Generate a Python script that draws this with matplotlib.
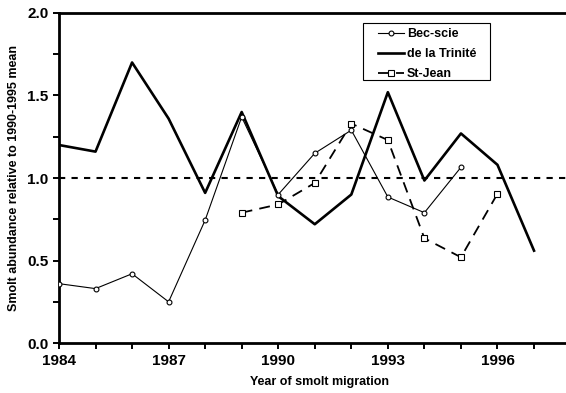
import numpy as np
import matplotlib.pyplot as plt
from matplotlib.patches import Rectangle
from matplotlib.ticker import MultipleLocator

plt.rcParams['font.family'] = ['Liberation Sans', 'DejaVu Sans']
plt.rcParams['font.weight'] = 'bold'

# smolt abundance relative to the 1990-1995 mean, by river
years_bec = [1984, 1985, 1986, 1987, 1988, 1989, 1990, 1991, 1992, 1993, 1994, 1995]
bec_scie = [0.36, 0.33, 0.42, 0.25, 0.745, 1.37, 0.90, 1.15, 1.29, 0.885, 0.79, 1.065]

years_trin = [1984, 1985, 1986, 1987, 1988, 1989, 1990, 1991, 1992, 1993, 1994, 1995, 1996, 1997]
trinite = [1.20, 1.16, 1.70, 1.36, 0.91, 1.40, 0.89, 0.72, 0.90, 1.52, 0.985, 1.27, 1.08, 0.56]

years_sj = [1989, 1990, 1991, 1992, 1993, 1994, 1995, 1996]
st_jean = [0.79, 0.84, 0.97, 1.33, 1.23, 0.635, 0.52, 0.905]

year_labels = [1984, 1987, 1990, 1993, 1996]

fig = plt.figure(figsize=(5.66, 3.93), dpi=100)
ax = fig.add_axes([0.1042, 0.127, 0.92, 0.84])

ax.axhline(1.0, color='black', lw=1.5, ls=(0, (3, 3)), zorder=1)

ax.plot(years_bec, bec_scie, color='black', lw=0.8, marker='o', ms=3.5,
        mfc='white', mec='black', mew=0.8, label='Bec-scie', zorder=3)
ax.plot(years_trin, trinite, color='black', lw=1.9, label='de la Trinité', zorder=2)
ax.plot(years_sj, st_jean, color='black', lw=1.3, ls=(0, (6, 4)), marker='s', ms=4,
        mfc='white', mec='black', mew=0.8, label='St-Jean', zorder=3)

ax.set_xlim(1984, 1998.25)
ax.set_ylim(0, 2.0)
ax.set_xticks(year_labels)
ax.xaxis.set_minor_locator(MultipleLocator(1))
ax.yaxis.set_major_locator(MultipleLocator(0.5))
ax.yaxis.set_minor_locator(MultipleLocator(0.25))
ax.yaxis.set_major_formatter(plt.FormatStrFormatter('%.1f'))

for side in ['left', 'bottom', 'top', 'right']:
    ax.spines[side].set_linewidth(2.0)

ax.tick_params(which='both', direction='out', width=1.4, length=4, labelsize=11)
for lab in ax.get_xticklabels() + ax.get_yticklabels():
    lab.set_fontweight('bold')

ax.set_xlabel('Year of smolt migration', fontsize=9, fontweight='bold', labelpad=6)
ax.set_ylabel('Smolt abundance relative to 1990-1995 mean', fontsize=9,
              fontweight='bold', labelpad=5)

# legend without its own frame; a wider box is drawn around it
leg = ax.legend(loc='upper left', bbox_to_anchor=(0.612, 0.953), fontsize=9,
                handlelength=2.1, handletextpad=0.25, borderpad=0,
                labelspacing=0.62, borderaxespad=0, frameon=False)
for t in leg.get_texts():
    t.set_fontweight('bold')
ax.add_patch(Rectangle((0.583, 0.797), 0.244, 0.173, transform=ax.transAxes,
                       facecolor='white', edgecolor='black', lw=0.8, zorder=4))
leg.set_zorder(5)

fig.savefig('out.png', dpi=100)
